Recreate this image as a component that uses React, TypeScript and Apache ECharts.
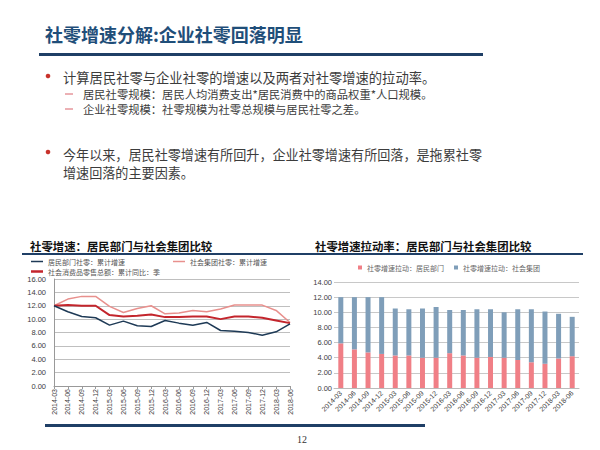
import React, { useEffect, useRef } from "react";
import * as echarts from "echarts";

const categories = [
  "2014-03", "2014-06", "2014-09", "2014-12",
  "2015-03", "2015-06", "2015-09", "2015-12",
  "2016-03", "2016-06", "2016-09", "2016-12",
  "2017-03", "2017-06", "2017-09", "2017-12",
  "2018-03", "2018-06",
];

// Left chart: cumulative growth (%)
const householdGrowth = [12.0, 11.1, 10.4, 10.2, 9.1, 9.7, 9.0, 8.9, 9.8, 9.4, 9.1, 9.5, 8.3, 8.2, 8.0, 7.6, 8.1, 9.3];
const groupGrowth = [12.0, 13.0, 13.4, 13.4, 11.9, 11.0, 11.6, 12.0, 10.8, 10.9, 11.3, 11.1, 11.5, 12.1, 12.1, 12.1, 11.3, 9.5];
const totalGrowth = [12.0, 12.1, 12.0, 12.0, 10.6, 10.4, 10.5, 10.7, 10.3, 10.3, 10.4, 10.4, 10.0, 10.4, 10.4, 10.2, 9.8, 9.4];

// Right chart: pull rates (stacked)
const householdPull = [5.9, 5.1, 4.7, 4.5, 4.3, 4.3, 4.0, 4.0, 4.6, 4.3, 4.0, 4.1, 4.0, 3.7, 3.4, 3.2, 3.9, 4.2];
const groupPull = [6.1, 6.9, 7.3, 7.5, 6.2, 6.1, 6.5, 6.7, 5.7, 6.0, 6.4, 6.3, 6.0, 6.7, 7.0, 6.9, 5.9, 5.2];

const seriesNames = {
  household: "居民部门社零：累计增速",
  group: "社会集团社零：累计增速",
  total: "社会消费品零售总额：累计同比：季",
  hPull: "社零增速拉动：居民部门",
  gPull: "社零增速拉动：社会集团",
};

const CJK = "'Noto Sans CJK SC', 'Noto Sans', sans-serif";
const NUM = "'Liberation Sans', Arial, sans-serif";
const NAVY = "#1F3F66";
const TEXT = "#3c3c3c";

export default function App() {
  const ref = useRef<HTMLDivElement>(null);

  useEffect(() => {
    if (!ref.current) return;
    const chart = echarts.init(ref.current, undefined, { renderer: "svg" });

    const txt = (x: number, y: number, text: string, size: number, extra: any = {}) => ({
      type: "text",
      x,
      y,
      style: {
        text,
        fontSize: size,
        fontFamily: CJK,
        fill: TEXT,
        verticalAlign: "middle",
        ...extra,
      },
    });

    const option: any = {
      animation: false,
      backgroundColor: "#ffffff",
      graphic: [
        txt(45, 34, "社零增速分解:企业社零回落明显", 18, { fontWeight: "bold", fill: "#1F4E79" }),
        { type: "rect", shape: { x: 39, y: 53, width: 444, height: 3 }, style: { fill: NAVY } },
        { type: "circle", shape: { cx: 48, cy: 76, r: 2.3 }, style: { fill: "#C8322B" } },
        txt(63, 77, "计算居民社零与企业社零的增速以及两者对社零增速的拉动率。", 13.3),
        { type: "line", shape: { x1: 65, y1: 94, x2: 73, y2: 94 }, style: { stroke: "#D9636B", lineWidth: 1 } },
        txt(83, 94, "居民社零规模：居民人均消费支出*居民消费中的商品权重*人口规模。", 11.3),
        { type: "line", shape: { x1: 65, y1: 109, x2: 73, y2: 109 }, style: { stroke: "#D9636B", lineWidth: 1 } },
        txt(83, 109, "企业社零规模：社零规模为社零总规模与居民社零之差。", 11.3),
        { type: "circle", shape: { cx: 48, cy: 152, r: 2.3 }, style: { fill: "#C8322B" } },
        txt(63, 154, "今年以来，居民社零增速有所回升，企业社零增速有所回落，是拖累社零", 13.1),
        txt(63, 172, "增速回落的主要因素。", 13.1),
        txt(30, 246, "社零增速：居民部门与社会集团比较", 11.4, { fontWeight: "bold", fill: "#111" }),
        txt(315, 246, "社零增速拉动率：居民部门与社会集团比较", 11.4, { fontWeight: "bold", fill: "#111" }),
        { type: "rect", shape: { x: 22, y: 253, width: 561, height: 2 }, style: { fill: NAVY } },
        { type: "rect", shape: { x: 45, y: 424, width: 380, height: 3 }, style: { fill: NAVY } },
        {
          type: "text",
          x: 302,
          y: 439,
          style: {
            text: "12",
            fontSize: 10,
            fontFamily: "'Liberation Serif', 'DejaVu Serif', serif",
            fill: "#333",
            align: "center",
            verticalAlign: "middle",
          },
        },
      ],
      legend: [
        {
          data: [{ name: seriesNames.household, icon: "rect" }],
          left: 31, top: 258, itemWidth: 12, itemHeight: 1.5, padding: 0,
          textStyle: { fontSize: 7, color: "#555", fontFamily: CJK },
        },
        {
          data: [{ name: seriesNames.group, icon: "rect" }],
          left: 173, top: 258, itemWidth: 12, itemHeight: 1.5, padding: 0,
          textStyle: { fontSize: 7, color: "#555", fontFamily: CJK },
        },
        {
          data: [{ name: seriesNames.total, icon: "rect" }],
          left: 31, top: 268, itemWidth: 12, itemHeight: 2.5, padding: 0,
          textStyle: { fontSize: 7, color: "#555", fontFamily: CJK },
        },
        {
          data: [{ name: seriesNames.hPull, icon: "rect" }],
          left: 358, top: 264, itemWidth: 4, itemHeight: 4, padding: 0,
          textStyle: { fontSize: 7, color: "#666", fontFamily: CJK },
        },
        {
          data: [{ name: seriesNames.gPull, icon: "rect" }],
          left: 454, top: 264, itemWidth: 4, itemHeight: 4, padding: 0,
          textStyle: { fontSize: 7, color: "#666", fontFamily: CJK },
        },
      ],
      grid: [
        { left: 54, right: 310, top: 279, bottom: 64, outerBoundsMode: "none", containLabel: false },
        { left: 334, right: 21, top: 282, bottom: 62, outerBoundsMode: "none", containLabel: false },
      ],
      xAxis: [
        {
          gridIndex: 0,
          type: "category",
          data: categories,
          boundaryGap: false,
          axisLine: { lineStyle: { color: "#999", width: 1 } },
          axisTick: { show: true, length: 3, lineStyle: { color: "#999" } },
          axisLabel: {
            rotate: 90, fontSize: 7, color: TEXT, fontFamily: NUM, margin: 3, interval: 0,
            overflow: "none", width: 60, hideOverlap: false,
          },
        },
        {
          gridIndex: 1,
          type: "category",
          data: categories,
          axisLine: { lineStyle: { color: "#bbb", width: 1 } },
          axisTick: { show: false },
          axisLabel: {
            rotate: 45, fontSize: 7, color: TEXT, fontFamily: NUM, margin: 4, interval: 0,
            overflow: "none", width: 60, hideOverlap: false,
          },
        },
      ],
      yAxis: [
        {
          gridIndex: 0,
          type: "value",
          min: 0,
          max: 16,
          interval: 2,
          axisLine: { show: true, lineStyle: { color: "#999" } },
          axisTick: { show: false },
          axisLabel: {
            fontSize: 7.5, color: TEXT, fontFamily: NUM, margin: 8,
            formatter: (v: number) => v.toFixed(2),
          },
          splitLine: { lineStyle: { color: "#bfbfbf", width: 1 } },
        },
        {
          gridIndex: 1,
          type: "value",
          min: 0,
          max: 14,
          interval: 2,
          axisLine: { show: false },
          axisTick: { show: false },
          axisLabel: {
            fontSize: 7.5, color: TEXT, fontFamily: NUM, margin: 2,
            formatter: (v: number) => v.toFixed(2),
          },
          splitLine: { lineStyle: { color: "#c8c8c8", width: 1 } },
        },
      ],
      series: [
        {
          name: seriesNames.group,
          type: "line",
          xAxisIndex: 0, yAxisIndex: 0,
          data: groupGrowth,
          showSymbol: false,
          lineStyle: { color: "#E8908D", width: 1.5 },
          itemStyle: { color: "#E8908D" },
        },
        {
          name: seriesNames.total,
          type: "line",
          xAxisIndex: 0, yAxisIndex: 0,
          data: totalGrowth,
          showSymbol: false,
          lineStyle: { color: "#C3252C", width: 2 },
          itemStyle: { color: "#C3252C" },
        },
        {
          name: seriesNames.household,
          type: "line",
          xAxisIndex: 0, yAxisIndex: 0,
          data: householdGrowth,
          showSymbol: false,
          lineStyle: { color: "#1E3A56", width: 1.5 },
          itemStyle: { color: "#1E3A56" },
        },
        {
          name: seriesNames.hPull,
          type: "bar",
          stack: "pull",
          xAxisIndex: 1, yAxisIndex: 1,
          data: householdPull,
          barWidth: 5,
          itemStyle: { color: "#F07F86" },
        },
        {
          name: seriesNames.gPull,
          type: "bar",
          stack: "pull",
          xAxisIndex: 1, yAxisIndex: 1,
          data: groupPull,
          barWidth: 5,
          itemStyle: { color: "#7F9EB9" },
        },
      ],
    };

    chart.setOption(option);
    return () => chart.dispose();
  }, []);

  return (
    <div
      ref={ref}
      style={{ position: "fixed", left: 0, top: 0, width: 600, height: 450, background: "#fff" }}
    />
  );
}
